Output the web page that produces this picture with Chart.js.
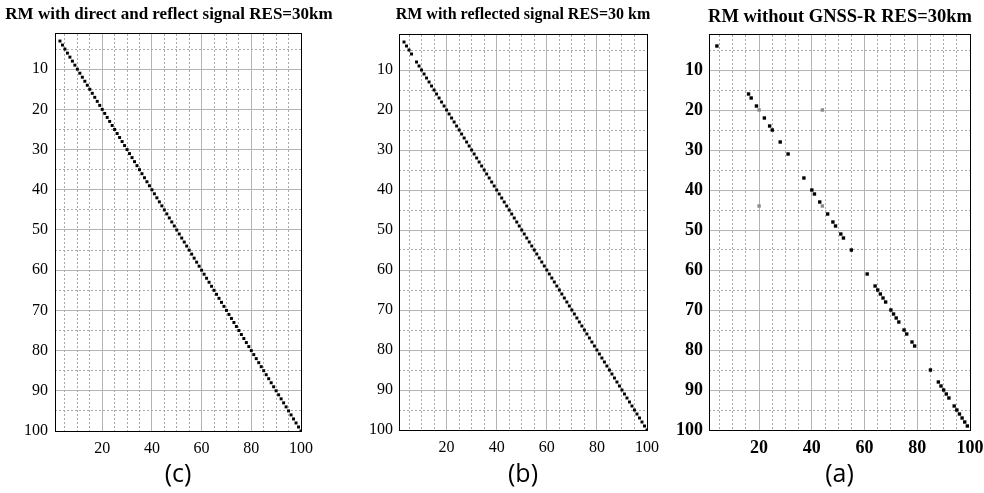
<!DOCTYPE html>
<html>
<head>
<meta charset="utf-8">
<script src="https://cdn.jsdelivr.net/npm/chart.js@4.4.1/dist/chart.umd.min.js"></script>
<style>
html, body { margin: 0; padding: 0; background: #fff; width: 984px; height: 493px; overflow: hidden; }
.panel { position: absolute; top: 0; }
</style>
</head>
<body>
<div class="panel" style="left:0px"><canvas id="chartC" width="338" height="493"></canvas></div>
<div class="panel" style="left:349px"><canvas id="chartB" width="348" height="493"></canvas></div>
<div class="panel" style="left:664px"><canvas id="chartA" width="352" height="493"></canvas></div>
<script>
// tick labels and grid steps
var yTicks = [10, 20, 30, 40, 50, 60, 70, 80, 90, 100];
var xTicks = [20, 40, 60, 80, 100];
var yMinor = [5, 15, 25, 35, 45, 55, 65, 75, 85, 95];
var xMinor = [5, 10, 15, 25, 30, 35, 45, 50, 55, 65, 70, 75, 85, 90, 95];

var titles = ['RM with direct and reflect signal RES=30km', 'RM with reflected signal RES=30 km', 'RM without GNSS-R RES=30km'];
var captions = ['(c)', '(b)', '(a)'];

// resolved cells on the diagonal (index i -> cell (i,i))
var diagC = [3, 4, 5, 6, 7, 8, 9, 10, 11, 12, 13, 14, 15, 16, 17, 18, 19, 20, 21, 22, 23, 24, 25, 26, 27, 28, 29, 30,
    31, 32, 33, 34, 35, 36, 37, 38, 39, 40, 41, 42, 43, 44, 45, 46, 47, 48, 49, 50, 51, 52, 53, 54, 55, 56, 57, 58, 59, 60,
    61, 62, 63, 64, 65, 66, 67, 68, 69, 70, 71, 72, 73, 74, 75, 76, 77, 78, 79, 80, 81, 82, 83, 84, 85, 86, 87, 88, 89, 90,
    91, 92, 93, 94, 95, 96, 97, 98, 99, 100];
var diagB = [3, 4, 5, 6, 8, 9, 10, 11, 12, 13, 14, 15, 16, 17, 18, 19, 20, 21, 22, 23, 24, 25, 26, 27, 28, 29, 30,
    31, 32, 33, 34, 35, 36, 37, 38, 39, 40, 41, 42, 43, 44, 45, 46, 47, 48, 49, 50, 51, 52, 53, 54, 55, 56, 57, 58, 59, 60,
    61, 62, 63, 64, 65, 66, 67, 68, 69, 70, 71, 72, 73, 74, 75, 76, 77, 78, 79, 80, 81, 82, 83, 84, 85, 86, 87, 88, 89, 90,
    91, 92, 93, 94, 95, 96, 97, 98, 99, 100];
var diagA = [4, 16, 17, 19, 22, 24, 25, 28, 31, 37, 40, 41, 43, 46, 48, 49, 51, 52, 55, 61, 64, 65, 66, 67, 68,
    70, 71, 72, 73, 75, 76, 78, 79, 85, 88, 89, 90, 91, 92, 94, 95, 96, 97, 98, 99];
// weaker cells in panel (a)
var grayAx = [20, 44, 44, 20];
var grayAy = [20, 44, 20, 44];

function toPoints(xs, ys) {
    return xs.map(function (v, i) { return { x: v, y: ys[i] }; });
}

function setTicks(list) {
    return function (scale) {
        scale.ticks = list.map(function (v) { return { value: v }; });
    };
}

function makeChart(id, cfg) {
    var tickFont = { family: 'Liberation Serif', size: cfg.tickSize, weight: cfg.tickWeight };
    var datasets = [{
        data: cfg.points,
        pointStyle: 'rect',
        pointRadius: cfg.radius,
        backgroundColor: '#000',
        borderWidth: 0
    }];
    if (cfg.grayPoints) {
        datasets.push({
            data: cfg.grayPoints,
            pointStyle: 'rect',
            pointRadius: cfg.radius,
            backgroundColor: '#8a8a8a',
            borderWidth: 0
        });
    }
    return new Chart(document.getElementById(id), {
        type: 'scatter',
        data: { datasets: datasets },
        options: {
            responsive: false,
            animation: false,
            layout: { padding: 0 },
            plugins: {
                legend: { display: false },
                tooltip: { enabled: false },
                title: {
                    display: true,
                    text: cfg.title,
                    color: '#000',
                    font: { family: 'Liberation Serif', size: cfg.titleSize, weight: 'bold' },
                    padding: { top: cfg.titleTop, bottom: cfg.titleBottom }
                }
            },
            scales: {
                x: {
                    type: 'linear', position: 'bottom', min: 1, max: 100,
                    afterBuildTicks: setTicks(xTicks),
                    afterFit: function (s) { s.height = cfg.xHeight; },
                    ticks: { autoSkip: false, maxRotation: 0, color: '#000', font: tickFont, padding: 8 },
                    grid: { color: '#b4b4b4', lineWidth: 1, drawTicks: false },
                    border: { color: '#000', width: 1, z: 1 },
                    title: {
                        display: true, text: cfg.caption, color: '#000',
                        font: { family: 'Open Sans', size: 25 },
                        padding: { top: 0, bottom: 3 }
                    }
                },
                y: {
                    type: 'linear', position: 'left', reverse: true, min: 1, max: 100,
                    afterBuildTicks: setTicks(yTicks),
                    afterFit: function (s) { s.width = cfg.yWidth; },
                    ticks: { autoSkip: false, color: '#000', font: tickFont, padding: cfg.yPad },
                    grid: { color: '#b4b4b4', lineWidth: 1, drawTicks: false },
                    border: { color: '#000', width: 1, z: 1 }
                },
                xm: {
                    type: 'linear', position: 'top', min: 1, max: 100,
                    afterBuildTicks: setTicks(xMinor),
                    afterFit: function (s) { s.height = 0; },
                    ticks: { display: false },
                    grid: { color: '#a8a8a8', lineWidth: 1, drawTicks: false },
                    border: { color: '#000', width: 1, dash: [2, 2], z: 1 }
                },
                ym: {
                    type: 'linear', position: 'right', reverse: true, min: 1, max: 100,
                    afterBuildTicks: setTicks(yMinor),
                    afterFit: function (s) { s.width = cfg.rightGap; },
                    ticks: { display: false },
                    grid: { color: '#a8a8a8', lineWidth: 1, drawTicks: false },
                    border: { color: '#000', width: 1, dash: [2, 2], z: 1 }
                }
            }
        }
    });
}

makeChart('chartC', {
    title: titles[0], caption: captions[0], points: toPoints(diagC, diagC),
    titleSize: 17, titleTop: 4, titleBottom: 8.6, rightGap: 37, yWidth: 55, yPad: 7,
    xHeight: 62, tickSize: 16, tickWeight: 'normal', radius: 2.1
});
makeChart('chartB', {
    title: titles[1], caption: captions[1], points: toPoints(diagB, diagB),
    titleSize: 16, titleTop: 5, titleBottom: 9.8, rightGap: 50, yWidth: 50, yPad: 6,
    xHeight: 63, tickSize: 16, tickWeight: 'normal', radius: 2.1
});
makeChart('chartA', {
    title: titles[2], caption: captions[2], points: toPoints(diagA, diagA),
    grayPoints: toPoints(grayAx, grayAy),
    titleSize: 18.5, titleTop: 6, titleBottom: 5.8, rightGap: 46, yWidth: 45, yPad: 6,
    xHeight: 63, tickSize: 18, tickWeight: 'bold', radius: 2.4
});
</script>
</body>
</html>
